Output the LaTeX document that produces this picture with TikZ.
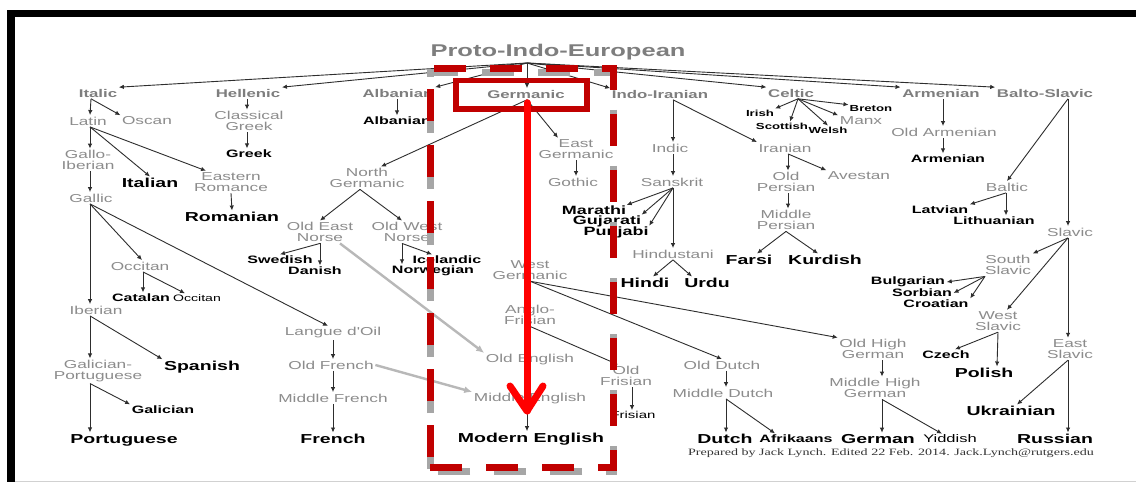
\documentclass[tikz,border=0pt]{standalone}
\usepackage{fontspec}
\usetikzlibrary{arrows.meta}
\newfontfamily\lab{Liberation Sans}[FakeStretch=1.5]
\newfontfamily\crd{Liberation Serif}[FakeStretch=1.45]
\definecolor{txtgray}{HTML}{8C8C8C}
\definecolor{topgray}{HTML}{7E7E7E}
\definecolor{arrowc}{HTML}{2E2E2E}
\definecolor{lightarrow}{HTML}{B8B8B8}
\definecolor{darkred}{HTML}{C00000}
\definecolor{brightred}{HTML}{FF0000}
\definecolor{shadowgray}{HTML}{A6A6A6}

\tikzset{
  gl/.style={text=txtgray, font=\lab\fontsize{11.5}{11}\selectfont, align=center, inner sep=1.5pt},
  toplang/.style={text=topgray, font=\lab\bfseries\fontsize{11.2}{11}\selectfont, inner sep=1.5pt},
  big/.style={text=black, font=\lab\bfseries\fontsize{13}{13}\selectfont, inner sep=1.5pt},
  indo/.style={text=black, font=\lab\bfseries\fontsize{12}{12}\selectfont, inner sep=0.5pt},
  med/.style={text=black, font=\lab\bfseries\fontsize{10.7}{11}\selectfont, inner sep=1.5pt},
  sml/.style={text=black, font=\lab\bfseries\fontsize{8.8}{9}\selectfont, inner sep=1pt},
  plain/.style={text=black, font=\lab\fontsize{10}{10}\selectfont, inner sep=1pt},
  ar/.style={draw=arrowc, line width=0.9pt, -{Latex[length=5pt,width=4.5pt]}},
  far/.style={draw=lightarrow, line width=2.4pt, -{Latex[length=8pt,width=7pt]}},
  redline/.style={draw=brightred, line width=7pt, line cap=round, line join=round},
  dashframe/.style={line width=7pt, dash pattern=on 32pt off 24pt, line join=miter}
}

\begin{document}
\begin{tikzpicture}[x=1pt,y=-1pt]
\useasboundingbox (0,0) rectangle (1136,484);
\fill[white] (0,0) rectangle (1136,484);

% frame
\fill[black] (7,10) rectangle (1136,17);
\fill[black] (7,10) rectangle (15,482);
\draw[black!18, line width=1pt] (15,481) -- (1136,481);

% title and branch point
\node[text=topgray, font=\lab\bfseries\fontsize{17}{17}\selectfont, inner sep=1pt] (pie) at (558,52) {Proto-Indo-European};
\coordinate (hub) at (527,63);

% top-level branches
\node[toplang] (italic) at (98,93) {Italic};
\node[toplang] (hellenic) at (248,93) {Hellenic};
\node[toplang] (albanianT) at (398,93) {Albanian};
\node[toplang] (germanic) at (526,94) {Germanic};
\node[toplang] (indoiranian) at (660,94) {Indo-Iranian};
\node[toplang] (celtic) at (791,93) {Celtic};
\node[toplang] (armenianT) at (941,93) {Armenian};
\node[toplang] (baltoslavic) at (1045,93) {Balto-Slavic};

% Italic
\node[gl] (latin) at (88,121) {Latin};
\node[gl] (oscan) at (147,121) {Oscan};
\node[gl] (galloiberian) at (88,160) {Gallo-\\Iberian};
\node[big] (italian) at (150,183) {Italian};
\node[gl] (easternromance) at (231,182) {Eastern\\Romance};
\node[big] (romanian) at (232,217) {Romanian};
\node[gl] (gallic) at (91,198) {Gallic};
\node[gl] (occitan) at (140,266) {Occitan};
\node[med] (catalan) at (141,298) {Catalan};
\node[plain, font=\lab\fontsize{9.4}{9.4}\selectfont] (occitanL) at (197,298) {Occitan};
\node[gl] (iberian) at (96,310) {Iberian};
\node[gl] (langue) at (333,333) {Langue d'Oil};
\node[gl] (galport) at (98,371) {Galician-\\Portuguese};
\node[big] (spanish) at (202,367) {Spanish};
\node[med] (galician) at (163,410) {Galician};
\node[big] (portuguese) at (124,440) {Portuguese};
\node[gl] (oldfrench) at (331,365) {Old French};
\node[gl] (middlefrench) at (333,398) {Middle French};
\node[big] (french) at (333,439) {French};

% Hellenic, Albanian
\node[gl] (classicalgreek) at (249,121) {Classical\\Greek};
\node[med] (greek) at (249,154) {Greek};
\node[med] (albanian) at (397,121) {Albanian};

% Germanic
\node[gl] (northgermanic) at (367,178) {North\\Germanic};
\node[gl] (eastgermanic) at (576,149) {East\\Germanic};
\node[gl] (gothic) at (573,182) {Gothic};
\node[gl] (oldeastnorse) at (320,232) {Old East\\Norse};
\node[gl] (oldwestnorse) at (407,232) {Old West\\Norse};
\node[med] (swedish) at (280,260) {Swedish};
\node[med] (danish) at (315,271) {Danish};
\node[med] (icelandic) at (447,260) {Icelandic};
\node[med] (norwegian) at (433,271) {Norwegian};
\node[gl] (westgermanic) at (530,270) {West\\Germanic};
\node[gl] (anglofrisian) at (530,315) {Anglo-\\Frisian};
\node[gl] (oldenglish) at (530,360) {Old English};
\node[gl] (middleenglish) at (530,399) {Middle English};
\node[big] (modernenglish) at (531,439) {Modern English};
\node[gl] (oldfrisian) at (626,376) {Old\\Frisian};
\node[plain] (frisian) at (633,415) {Frisian};
\node[gl] (olddutch) at (722,365) {Old Dutch};
\node[gl] (middledutch) at (723,393) {Middle Dutch};
\node[big] (dutch) at (725,439) {Dutch};
\node[med] (afrikaans) at (796,439) {Afrikaans};
\node[gl] (oldhighgerman) at (873,349) {Old High\\German};
\node[gl] (middlehighgerman) at (875,388) {Middle High\\German};
\node[big] (german) at (878,439) {German};
\node[plain, font=\lab\fontsize{11}{11}\selectfont] (yiddish) at (950,439) {Yiddish};

% Indo-Iranian
\node[gl] (indic) at (670,148) {Indic};
\node[gl] (iranian) at (785,148) {Iranian};
\node[gl] (sanskrit) at (672,182) {Sanskrit};
\node[indo] (marathi) at (594,210) {Marathi};
\node[indo] (gujarati) at (607,221) {Gujarati};
\node[indo] (punjabi) at (616,232) {Punjabi};
\node[gl] (hindustani) at (673,254) {Hindustani};
\node[big] (hindi) at (645,283) {Hindi};
\node[big] (urdu) at (707,283) {Urdu};
\node[gl] (oldpersian) at (786,182) {Old\\Persian};
\node[gl] (avestan) at (859,176) {Avestan};
\node[gl] (middlepersian) at (786,220) {Middle\\Persian};
\node[big] (farsi) at (749,260) {Farsi};
\node[big] (kurdish) at (825,260) {Kurdish};

% Celtic
\node[sml] (irish) at (760,113) {Irish};
\node[sml] (scottish) at (782,126) {Scottish};
\node[sml] (welsh) at (828,130) {Welsh};
\node[gl] (manx) at (861,121) {Manx};
\node[sml] (breton) at (871,109) {Breton};

% Armenian
\node[gl] (oldarmenian) at (944,132) {Old Armenian};
\node[med] (armenian) at (948,159) {Armenian};

% Balto-Slavic
\node[gl] (baltic) at (1007,187) {Baltic};
\node[gl] (slavic) at (1070,232) {Slavic};
\node[med] (latvian) at (940,210) {Latvian};
\node[med] (lithuanian) at (994,221) {Lithuanian};
\node[gl] (southslavic) at (1008,265) {South\\Slavic};
\node[gl] (westslavic) at (998,321) {West\\Slavic};
\node[gl] (eastslavic) at (1070,349) {East\\Slavic};
\node[med] (bulgarian) at (908,282) {Bulgarian};
\node[med] (sorbian) at (922,293) {Sorbian};
\node[med] (croatian) at (936,304) {Croatian};
\node[med] (czech) at (946,355) {Czech};
\node[big] (polish) at (984,373) {Polish};
\node[big] (ukrainian) at (1011,411) {Ukrainian};
\node[big] (russian) at (1055,439) {Russian};

\node[text=black!80, font=\crd\fontsize{9.7}{10}\selectfont, inner sep=1pt] (credit) at (891,453)
  {Prepared by Jack Lynch. Edited 22 Feb. 2014. Jack.Lynch@rutgers.edu};

% connectors from the root
\draw[ar] (hub) -- (italic.north east);
\draw[ar] (hub) -- (hellenic.north east);
\draw[ar] (hub) -- (albanianT.north east);
\draw[ar] (hub) -- ([xshift=1pt]germanic.north);
\draw[ar] (hub) -- (indoiranian.north west);
\draw[ar] (hub) -- (celtic.north west);
\draw[ar] (hub) -- (armenianT.north west);
\draw[ar] (hub) -- (baltoslavic.north west);

% Italic
\draw[ar] ([xshift=-7pt]italic.south) -- ([xshift=2pt]latin.north);
\draw[ar] ([xshift=-7pt]italic.south) -- (oscan.north west);
\draw[ar] ([xshift=2pt]latin.south) -- ([xshift=2pt]galloiberian.north);
\draw[ar] ([xshift=2pt]latin.south) -- (italian.north);
\draw[ar] ([xshift=2pt]latin.south) -- ([xshift=-25pt]easternromance.north);
\draw[ar] (easternromance.south) -- (romanian.north);
\draw[ar] ([xshift=2pt]galloiberian.south) -- ([xshift=-1pt]gallic.north);
\draw[ar] ([xshift=-1pt]gallic.south) -- ([xshift=-6pt]iberian.north);
\draw[ar] ([xshift=-1pt]gallic.south) -- ([xshift=2pt]occitan.north);
\draw[ar] ([xshift=-1pt]gallic.south) -- ([xshift=-5pt]langue.north);
\draw[ar] ([xshift=3pt]occitan.south) -- ([xshift=2pt]catalan.north);
\draw[ar] ([xshift=3pt]occitan.south) -- ([xshift=-12pt]occitanL.north);
\draw[ar] ([xshift=-6pt]iberian.south) -- ([xshift=-8pt]galport.north);
\draw[ar] ([xshift=-6pt]iberian.south) -- (spanish.north west);
\draw[ar] ([xshift=-8pt]galport.south) -- (galician.north west);
\draw[ar] ([xshift=-8pt]galport.south) -- ([xshift=-34pt]portuguese.north);
\draw[ar] (langue.south) -- ([xshift=2pt]oldfrench.north);
\draw[ar] ([xshift=2pt]oldfrench.south) -- (middlefrench.north);
\draw[ar] (middlefrench.south) -- (french.north);

% Hellenic, Albanian
\draw[ar] ([xshift=-1pt]hellenic.south) -- ([xshift=-2pt]classicalgreek.north);
\draw[ar] ([xshift=-2pt]classicalgreek.south) -- ([xshift=-2pt]greek.north);
\draw[ar] ([xshift=-1pt]albanianT.south) -- (albanian.north);

% Germanic
\draw[ar] ([xshift=1pt]germanic.south) -- ([xshift=14pt]northgermanic.north);
\draw[ar] ([xshift=1pt]germanic.south) -- ([xshift=-18pt]eastgermanic.north);
\draw[ar] ([xshift=1pt]germanic.south) -- ([xshift=-3pt]westgermanic.north);
\draw[ar] (eastgermanic.south) -- ([xshift=3pt]gothic.north);
\draw[ar] ([xshift=-7pt]northgermanic.south) -- (oldeastnorse.north);
\draw[ar] ([xshift=-7pt]northgermanic.south) -- ([xshift=-5pt]oldwestnorse.north);
\draw[ar] (oldeastnorse.south) -- (swedish.north);
\draw[ar] (oldeastnorse.south) -- ([xshift=5pt]danish.north);
\draw[ar] ([xshift=-5pt]oldwestnorse.south) -- ([xshift=-31pt]norwegian.north);
\draw[ar] ([xshift=-5pt]oldwestnorse.south) -- ([xshift=-15pt]icelandic.north);
\draw[far] ([xshift=20pt]oldeastnorse.south) -- (oldenglish.north west);
\draw[far] (oldfrench.east) -- (middleenglish.north west);
\draw[ar] ([xshift=-3pt]westgermanic.south) -- ([xshift=-3pt]anglofrisian.north);
\draw[ar] ([xshift=-3pt]anglofrisian.south) -- ([xshift=-3pt]oldenglish.north);
\draw[ar] ([xshift=-3pt]oldenglish.south) -- ([xshift=-3pt]middleenglish.north);
\draw[ar] ([xshift=-3pt]middleenglish.south) -- ([xshift=-4pt]modernenglish.north);
\draw[ar] (anglofrisian.south) -- ([xshift=-8pt]oldfrisian.north);
\draw[ar] ([xshift=6pt]oldfrisian.south) -- ([xshift=-1pt]frisian.north);
\draw[ar] (westgermanic.south) -- (olddutch.north);
\draw[ar] (westgermanic.south) -- (oldhighgerman.north west);
\draw[ar] ([xshift=4pt]olddutch.south) -- ([xshift=3pt]middledutch.north);
\draw[ar] ([xshift=3pt]middledutch.south) -- ([xshift=1pt]dutch.north);
\draw[ar] ([xshift=3pt]middledutch.south) -- ([xshift=-21pt]afrikaans.north);
\draw[ar] ([xshift=9pt]oldhighgerman.south) -- ([xshift=7pt]middlehighgerman.north);
\draw[ar] ([xshift=7pt]middlehighgerman.south) -- ([xshift=4pt]german.north);
\draw[ar] ([xshift=7pt]middlehighgerman.south) -- ([xshift=-8pt]yiddish.north);

% Indo-Iranian
\draw[ar] ([xshift=13pt]indoiranian.south) -- ([xshift=3pt]indic.north);
\draw[ar] ([xshift=13pt]indoiranian.south) -- (iranian.north west);
\draw[ar] ([xshift=3pt]indic.south) -- ([xshift=1pt]sanskrit.north);
\draw[ar] ([xshift=1pt]sanskrit.south) -- (marathi.north east);
\draw[ar] ([xshift=1pt]sanskrit.south) -- (gujarati.north east);
\draw[ar] ([xshift=1pt]sanskrit.south) -- (punjabi.north east);
\draw[ar] ([xshift=1pt]sanskrit.south) -- (hindustani.north);
\draw[ar] (hindustani.south) -- ([xshift=8pt]hindi.north);
\draw[ar] (hindustani.south) -- ([xshift=-15pt]urdu.north);
\draw[ar] ([xshift=3pt]iranian.south) -- ([xshift=2pt]oldpersian.north);
\draw[ar] ([xshift=3pt]iranian.south) -- (avestan.north west);
\draw[ar] ([xshift=2pt]oldpersian.south) -- ([xshift=2pt]middlepersian.north);
\draw[ar] (middlepersian.south) -- ([xshift=8pt]farsi.north);
\draw[ar] (middlepersian.south) -- ([xshift=-7pt]kurdish.north);

% Celtic
\draw[ar] ([xshift=7pt]celtic.south) -- (irish.north east);
\draw[ar] ([xshift=7pt]celtic.south) -- ([xshift=8pt]scottish.north);
\draw[ar] ([xshift=7pt]celtic.south) -- (welsh.north);
\draw[ar] ([xshift=7pt]celtic.south) -- (manx.north west);
\draw[ar] ([xshift=7pt]celtic.south) -- (breton.north west);

% Armenian
\draw[ar] ([xshift=2pt]armenianT.south) -- ([xshift=-1pt]oldarmenian.north);
\draw[ar] ([xshift=-1pt]oldarmenian.south) -- ([xshift=-5pt]armenian.north);

% Balto-Slavic
\draw[ar] ([xshift=23pt]baltoslavic.south) -- (baltic.north);
\draw[ar] ([xshift=23pt]baltoslavic.south) -- ([xshift=-2pt]slavic.north);
\draw[ar] ([xshift=-1pt]baltic.south) -- (latvian.north east);
\draw[ar] ([xshift=-1pt]baltic.south) -- ([xshift=12pt]lithuanian.north);
\draw[ar] ([xshift=-2pt]slavic.south) -- (southslavic.north east);
\draw[ar] ([xshift=-2pt]slavic.south) -- ([xshift=9pt]westslavic.north);
\draw[ar] ([xshift=-2pt]slavic.south) -- ([xshift=-2pt]eastslavic.north);
\draw[ar] ([xshift=-23pt]southslavic.south) -- (bulgarian.east);
\draw[ar] ([xshift=-23pt]southslavic.south) -- (sorbian.east);
\draw[ar] ([xshift=-23pt]southslavic.south) -- (croatian.north east);
\draw[ar] (westslavic.south) -- ([xshift=9pt]czech.north);
\draw[ar] (westslavic.south) -- ([xshift=13pt]polish.north);
\draw[ar] ([xshift=-2pt]eastslavic.south) -- ([xshift=6pt]ukrainian.north);
\draw[ar] ([xshift=-2pt]eastslavic.south) -- ([xshift=13pt]russian.north);

% highlighted English lineage
\draw[dashframe, draw=shadowgray, dash phase=54pt, shift={(0,4)}]
  (430,467) -- (430,69) -- (613,69) -- (613,467) -- cycle;
\draw[dashframe, draw=darkred, dash phase=46pt]
  (430,467) -- (430,69) -- (613,69) -- (613,467) -- cycle;
\node[draw=darkred, line width=5.5pt, minimum width=131pt, minimum height=28.5pt, inner sep=0pt]
  (gbox) at (521.5,94.75) {};
\coordinate (redtip) at (527,411);
\draw[redline] ([xshift=5.5pt,yshift=9pt]gbox.south) -- (redtip);
\draw[redline] (redtip) ++(-17,-25) -- (redtip) -- ++(16,-25);
\end{tikzpicture}
\end{document}
